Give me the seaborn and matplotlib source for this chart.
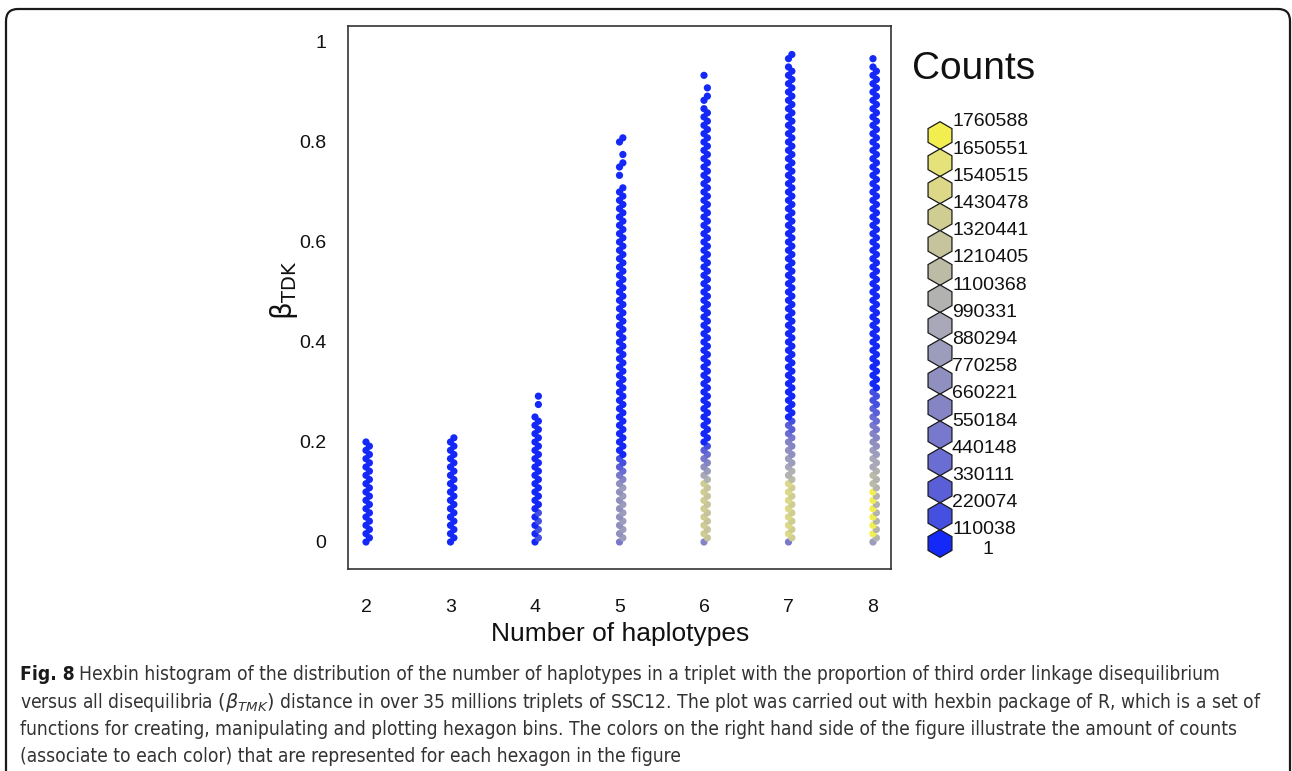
import numpy as np
import pandas as pd
import matplotlib
matplotlib.use("Agg")
import matplotlib.pyplot as plt
import seaborn as sns
from matplotlib import font_manager
from matplotlib.font_manager import FontProperties
from matplotlib.colors import ListedColormap, BoundaryNorm
from matplotlib.patches import RegularPolygon, FancyBboxPatch

# ---------------------------------------------------------------- data
haplotypes = [2, 3, 4, 5, 6, 7, 8]

# Legend class limits of the hexagon counts
count_breaks = [1, 110038, 220074, 330111, 440148, 550184, 660221, 770258,
                880294, 990331, 1100368, 1210405, 1320441, 1430478, 1540515,
                1650551, 1760588]

# Count class of every hexagon row in each column, from beta = 0 upward,
# as run-length segments (class, number of rows); class -1 = empty bin.
rows_hap2 = [(0, 25)]
rows_hap3 = [(0, 26)]
rows_hap4 = [(0, 1), (1, 1), (0, 1), (1, 1), (0, 1), (1, 1), (0, 1), (1, 1),
             (0, 23), (-1, 2), (0, 1), (-1, 1), (0, 1)]
rows_hap5 = [(4, 1), (7, 1), (6, 1), (7, 1), (6, 1), (7, 1), (6, 1), (7, 1),
             (6, 1), (7, 1), (6, 1), (7, 1), (6, 1), (7, 1), (6, 1),
             (5, 1), (4, 1), (3, 1), (2, 1), (1, 2),
             (0, 65), (-1, 2), (0, 1), (-1, 1), (0, 2), (-1, 1), (0, 1),
             (-1, 2), (0, 2)]
rows_hap6 = [(5, 1), (11, 1), (12, 1), (11, 1), (12, 1), (11, 1), (12, 1),
             (11, 1), (12, 1), (11, 1), (12, 1), (11, 1), (12, 1), (11, 1),
             (12, 1), (9, 1), (8, 1), (7, 1), (6, 1), (5, 1), (4, 1), (3, 1),
             (2, 1), (1, 1), (0, 81), (-1, 1), (0, 2), (-1, 1), (0, 1),
             (-1, 2), (0, 1)]
rows_hap7 = [(4, 1), (12, 1), (13, 1), (12, 1), (13, 1), (12, 1), (13, 1),
             (12, 1), (13, 1), (12, 1), (13, 1), (12, 1), (13, 1), (12, 1),
             (13, 1), (10, 1), (9, 2), (8, 1), (7, 2), (6, 2), (5, 2), (4, 1),
             (3, 1), (2, 2), (1, 1), (0, 85), (-1, 1), (0, 2)]
rows_hap8 = [(7, 1), (9, 1), (15, 1), (9, 1), (15, 1), (9, 1), (15, 1),
             (9, 1), (15, 1), (9, 1), (15, 1), (9, 1), (15, 1),
             (9, 1), (10, 1), (9, 1), (10, 1), (9, 1), (8, 1),
             (8, 2), (7, 2), (6, 2), (5, 2), (4, 2), (3, 2), (2, 2), (1, 4),
             (0, 78), (-1, 1), (0, 1)]

column_rows = dict(zip(haplotypes, [rows_hap2, rows_hap3, rows_hap4, rows_hap5,
                                    rows_hap6, rows_hap7, rows_hap8]))

legend_labels = ["1760588", "1650551", "1540515", "1430478", "1320441",
                 "1210405", "1100368", "990331", "880294", "770258", "660221",
                 "550184", "440148", "330111", "220074", "110038"]

caption_lines = [
    "Hexbin histogram of the distribution of the number of haplotypes in a triplet with the proportion of third order linkage disequilibrium",
    r"versus all disequilibria $(\beta_{TMK})$ distance in over 35 millions triplets of SSC12. The plot was carried out with hexbin package of R, which is a set of",
    "functions for creating, manipulating and plotting hexagon bins. The colors on the right hand side of the figure illustrate the amount of counts",
    "(associate to each color) that are represented for each hexagon in the figure",
]

# ---------------------------------------------------------------- hex grid
ROW_STEP = 1 / 120      # vertical distance between hexagon rows (beta units)
HEX_WIDTH = 0.08        # hexagon width along x (haplotype units)

class_mid = [(count_breaks[k] + count_breaks[k + 1]) / 2 for k in range(16)]

records = []
for h, segs in column_rows.items():
    row = 0
    for cls, n in segs:
        for _ in range(n):
            if cls >= 0:
                records.append({
                    "haplotypes": h,
                    "x": h + (row % 2) * HEX_WIDTH / 2,
                    "beta": row * ROW_STEP,
                    "count": class_mid[cls],
                })
            row += 1
df = pd.DataFrame(records)

class_colors = ["#1428F8", "#4650E0", "#5A5FD8", "#6A6ED2", "#7878CC",
                "#8585C6", "#9090C0", "#9C9CBC", "#A8A8B8", "#B2B2B0",
                "#BCBCA6", "#C6C49C", "#D0CD92", "#DCD888", "#E6E27A",
                "#F2EE50"]
cmap = ListedColormap(class_colors)
norm = BoundaryNorm(count_breaks, 16)

# ---------------------------------------------------------------- style
sns.set_theme(style="white")
names = {f.name for f in font_manager.fontManager.ttflist}
main_font = "Liberation Sans" if "Liberation Sans" in names else "DejaVu Sans"
plt.rcParams["font.family"] = [main_font, "DejaVu Sans"]
plt.rcParams["mathtext.fontset"] = "dejavusans"

# narrow face for the caption, if one is installed
condensed = ("condensed", "semi-condensed", "extra-condensed", "ultra-condensed")
narrow = [f for f in font_manager.fontManager.ttflist
          if (f.stretch in condensed or "Narrow" in f.name or "Condensed" in f.name)
          and f.style == "normal"]
def pick(cands, bold):
    for f in cands:
        w = f.weight if isinstance(f.weight, int) else (700 if "bold" in str(f.weight) else 400)
        if (w >= 600) == bold:
            return f.fname
    return None
cap_regular = pick(narrow, False)
cap_bold = pick(narrow, True)

W, H = 1292, 771
fig = plt.figure(figsize=(W / 100, H / 100), dpi=100)
fig.patch.set_facecolor("white")

left, right, top, bottom = 348, 891, 26, 569
ax = fig.add_axes([left / W, 1 - bottom / H, (right - left) / W, (bottom - top) / H])

sns.scatterplot(data=df, x="x", y="beta", hue="count", palette=cmap,
                hue_norm=norm, marker="o", s=27, linewidth=0, legend=False,
                ax=ax)

ax.set_xlim(2 - 18 / 84.5, 8 + 18 / 84.5)
ax.set_ylim(-27 / 500, 1 + 16 / 500)
ax.set_xticks(haplotypes)
ax.set_xticklabels([str(h) for h in haplotypes])
ax.set_yticks([0, 0.2, 0.4, 0.6, 0.8, 1])
ax.set_yticklabels(["0", "0.2", "0.4", "0.6", "0.8", "1"])
ax.set_xlabel("")
ax.set_ylabel("")
for sp in ax.spines.values():
    sp.set_visible(True)
    sp.set_color("#333333")
    sp.set_linewidth(1.2)
ax.tick_params(axis="both", direction="out", length=8.6, width=1.1,
               color="#333333", labelsize=14, labelcolor="#111111")
ax.tick_params(axis="x", pad=13)
ax.tick_params(axis="y", pad=7)

fig.text(620 / W, 1 - 634 / H, "Number of haplotypes", ha="center",
         va="center", fontsize=19, color="#111111")
fig.text(284 / W, 1 - 290 / H, r"$\mathrm{β}_{\mathrm{TDK}}$", rotation=90,
         ha="center", va="center", fontsize=20, color="#111111")

# ---------------------------------------------------------------- overlay in pixels
ov = fig.add_axes([0, 0, 1, 1], facecolor="none")
ov.set_xlim(0, W)
ov.set_ylim(H, 0)
ov.axis("off")

frame = FancyBboxPatch((6, 9), 1284, 800, boxstyle="round,pad=0,rounding_size=12",
                       fill=False, edgecolor="#1a1a1a", linewidth=1.6)
ov.add_patch(frame)

ov.text(912, 69, "Counts", ha="left", va="center", fontsize=28, color="#111111")
hex_step = 27.2
for k in range(16):
    yc = 135.5 + hex_step * k
    ov.add_patch(RegularPolygon((940, yc), numVertices=6, radius=13.8,
                                orientation=0, facecolor=class_colors[15 - k],
                                edgecolor="#1a1a1a", linewidth=0.9))
    ov.text(952, 122 + hex_step * k, legend_labels[k], ha="left", va="center",
            fontsize=14, color="#111111")
ov.text(988, 550, "1", ha="center", va="center", fontsize=14, color="#111111")

# ---------------------------------------------------------------- caption
def cap_props(size, bold=False):
    path = cap_bold if bold else cap_regular
    if bold and path is None and cap_regular is not None:
        return FontProperties(fname=cap_regular, size=size, weight="bold")
    if path is not None:
        return FontProperties(fname=path, size=size)
    return FontProperties(family=[main_font, "DejaVu Sans"], size=size,
                          weight="bold" if bold else "normal")

fig.canvas.draw()
renderer = fig.canvas.get_renderer()

# size the caption so the third line runs from the left margin to x = 1244
probe = ov.text(20, 0, caption_lines[2], fontproperties=cap_props(10))
pw = probe.get_window_extent(renderer=renderer).width
probe.remove()
cap_size = 10 * (1244 - 20) / pw

cap_y = [675, 702.5, 729.5, 756.5]
lbl = ov.text(20, cap_y[0], "Fig. 8", ha="left", va="center", color="#1a1a1a",
              fontproperties=cap_props(cap_size, bold=True))
bb = lbl.get_window_extent(renderer=renderer)
ov.text(bb.x1 + 0.3 * cap_size, cap_y[0], caption_lines[0], ha="left",
        va="center", color="#333333", fontproperties=cap_props(cap_size))
for y, line in zip(cap_y[1:], caption_lines[1:]):
    ov.text(20, y, line, ha="left", va="center", color="#333333",
            fontproperties=cap_props(cap_size))

fig.savefig("out.png", dpi=100, facecolor="white")
